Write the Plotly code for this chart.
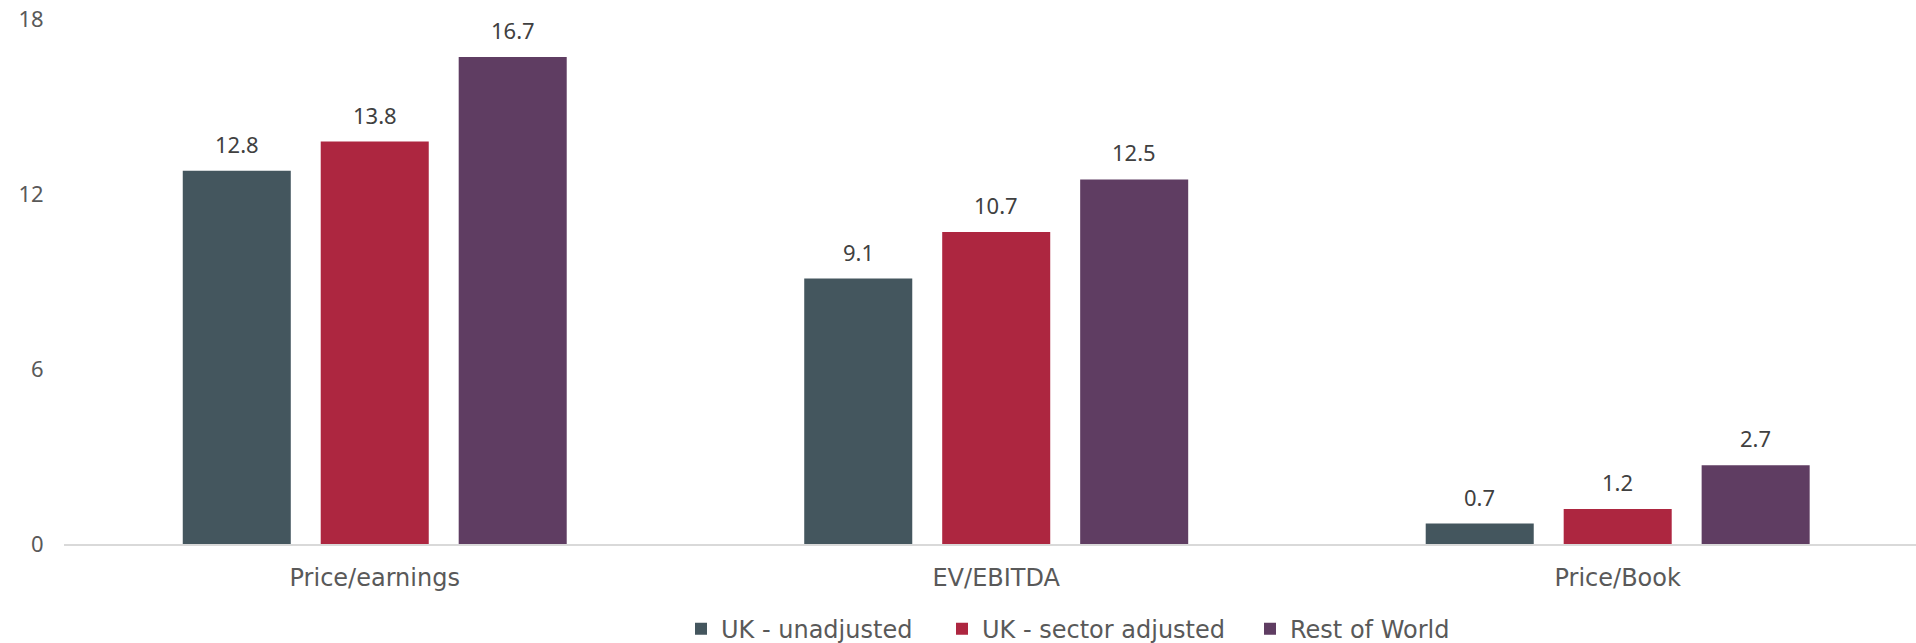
import plotly.graph_objects as go

categories = ["Price/earnings", "EV/EBITDA", "Price/Book"]
series_names = ["UK - unadjusted", "UK - sector adjusted", "Rest of World"]
uk_unadjusted = [12.8, 9.1, 0.7]
uk_sector_adjusted = [13.8, 10.7, 1.2]
rest_of_world = [16.7, 12.5, 2.7]
y_ticks = [0, 6, 12, 18]

colors = ["#44565E", "#AD2640", "#5F3D62"]
legend_widths = [216, 263, 180]
FONT = "DejaVu Sans"
NUMFONT = "Noto Sans"

W, H = 1916, 643
ML, MR, MT, MB = 64, 0, 19, 99
x_range = [-0.5, 2.48]
bargap = 0.334
bargroupgap = 0.217

fig = go.Figure()
all_series = [uk_unadjusted, uk_sector_adjusted, rest_of_world]
for name, vals, col, lw in zip(series_names, all_series, colors, legend_widths):
    fig.add_trace(go.Bar(
        x=categories, y=vals, name=name,
        marker=dict(color=col, line=dict(width=0)),
        legendwidth=lw,
    ))

# data labels above bars
unit_px = (W - ML - MR) / (x_range[1] - x_range[0])
slot_px = unit_px * (1 - bargap) / 3
for i, vals in enumerate(all_series):
    for c, v in zip(categories, vals):
        fig.add_annotation(
            x=c, y=v, text=f"{v:.1f}", showarrow=False,
            xshift=(i - 1) * slot_px, yshift=10, yanchor="bottom",
            font=dict(family=NUMFONT, size=22, color="#404040"),
        )

fig.update_layout(
    width=W, height=H,
    margin=dict(l=ML, r=MR, t=MT, b=MB, autoexpand=False),
    paper_bgcolor="white", plot_bgcolor="white",
    barmode="group", bargap=bargap, bargroupgap=bargroupgap,
    font=dict(family=FONT, size=22, color="#595959"),
    showlegend=True,
    legend=dict(
        orientation="h", x=(681 - ML) / (W - ML - MR), xanchor="left",
        y=-0.162, yanchor="middle",
        font=dict(family=FONT, size=24, color="#595959"),
        itemwidth=30, traceorder="normal",
    ),
    xaxis=dict(
        range=x_range, showgrid=False, zeroline=False, automargin=False,
        showline=True, linecolor="#D9D9D9", linewidth=2,
        ticks="outside", ticklen=11, tickcolor="rgba(0,0,0,0)",
        tickfont=dict(family=FONT, size=24, color="#595959"),
    ),
    yaxis=dict(
        range=[0, 18], tickvals=y_ticks, showgrid=False, zeroline=False,
        showline=False, automargin=False,
        ticks="outside", ticklen=15, tickcolor="rgba(0,0,0,0)",
        tickfont=dict(family=NUMFONT, size=22, color="#595959"),
    ),
)

fig.write_html(
    "out.html",
    config={"displayModeBar": False},
    post_script="document.body.style.margin='0';document.body.style.overflow='hidden';",
)
